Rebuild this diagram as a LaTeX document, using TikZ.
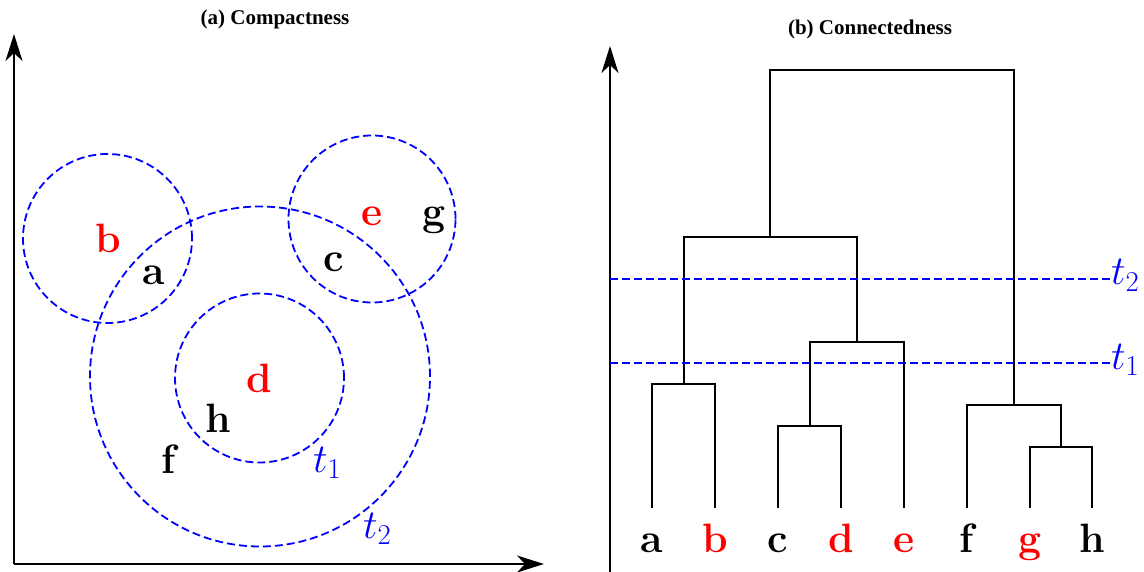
\RequirePackage{fix-cm}
\documentclass[tikz,border=0pt]{standalone}
\usepackage{fontspec}
\newfontfamily\titlefont{Liberation Serif}
\usetikzlibrary{arrows.meta}
\definecolor{lblblue}{RGB}{0,0,255}
\definecolor{lblred}{RGB}{255,0,0}
\begin{document}
\begin{tikzpicture}[x=1pt,y=-1pt,
  lbl/.style={font=\fontsize{41}{45}\selectfont\bfseries, inner sep=0pt, anchor=base},
  redlbl/.style={lbl, text=lblred},
  ttl/.style={font=\titlefont\fontsize{21}{24}\selectfont\bfseries, inner sep=0pt, anchor=base},
  circ/.style={circle, draw=lblblue, dash pattern=on 8pt off 4pt, line width=1.8pt, inner sep=0pt},
  cutline/.style={draw=lblblue, dash pattern=on 8pt off 4pt, line width=1.8pt},
  axis/.style={line width=1.8pt, -{Stealth[length=27pt,width=17pt,inset=8pt]}},
  dend/.style={line width=1.8pt},
  tlbl/.style={text=lblblue, font=\fontsize{41}{45}\selectfont, inner sep=0pt}]
\useasboundingbox (0,0) rectangle (1144,572);

% ---------- (a) Compactness ----------
\node[ttl] (ta) at (275,25) {(a) Compactness};
\coordinate (o) at (14,564);
\coordinate (ytip) at (14,34);
\coordinate (xtip) at (544,564);
\draw[axis] (o) -- (ytip);
\draw[axis] (o) -- (xtip);

\node[circ, minimum size=169pt] (cb) at (107.5,238.5) {};
\node[circ, minimum size=167pt] (ceg) at (372,219) {};
\node[circ, minimum size=169pt] (ct1) at (259.5,378) {};
\node[circ, minimum size=340pt] (ct2) at (260,376.5) {};

\node[redlbl] (pb) at (108,253) {b};
\node[lbl] (pa) at (154,285) {a};
\node[redlbl] (pe) at (372,226) {e};
\node[lbl] (pg) at (434,226) {g};
\node[lbl] (pc) at (334,272) {c};
\node[redlbl] (pd) at (259,392) {d};
\node[lbl] (ph) at (218,432) {h};
\node[lbl] (pf) at (169,473) {f};
\node[tlbl, anchor=base west] (lt1) at (313,472) {$t_1$};
\node[tlbl, anchor=base west] (lt2) at (363,538) {$t_2$};

% ---------- (b) Connectedness ----------
\node[ttl] (tb) at (870,35) {(b) Connectedness};
\coordinate (o2) at (610,572);
\coordinate (ytip2) at (610,46);
\draw[axis] (o2) -- (ytip2);

% leaves
\coordinate (la) at (652,508);
\coordinate (lb) at (715,508);
\coordinate (lc) at (778,508);
\coordinate (ld) at (841,508);
\coordinate (le) at (904,508);
\coordinate (lf) at (967,508);
\coordinate (lg) at (1030,508);
\coordinate (lh) at (1092,508);
% merges
\coordinate (mab) at (684,384);
\coordinate (mcd) at (810,426);
\coordinate (mcde) at (857,342);
\coordinate (mgh) at (1061,447);
\coordinate (mfgh) at (1014,405);
\coordinate (mabcde) at (770,237);
\coordinate (mall) at (892,70);

\draw[dend] (la) |- (mab) -| (lb);
\draw[dend] (lc) |- (mcd) -| (ld);
\draw[dend] (mcd) |- (mcde) -| (le);
\draw[dend] (lg) |- (mgh) -| (lh);
\draw[dend] (lf) |- (mfgh) -| (mgh);
\draw[dend] (mab) |- (mabcde) -| (mcde);
\draw[dend] (mabcde) |- (mall) -| (mfgh);

\coordinate (c2s) at (610,279);
\coordinate (c2e) at (1110,279);
\coordinate (c1s) at (610,363);
\coordinate (c1e) at (1110,363);
\draw[cutline] (c2s) -- (c2e);
\draw[cutline] (c1s) -- (c1e);
\node[tlbl, anchor=base west] (rt2) at (1111,285) {$t_2$};
\node[tlbl, anchor=base west] (rt1) at (1111,369) {$t_1$};

\node[lbl] (na) at (652,552) {a};
\node[redlbl] (nb) at (715,552) {b};
\node[lbl] (nc) at (778,552) {c};
\node[redlbl] (nd) at (841,552) {d};
\node[redlbl] (ne) at (904,552) {e};
\node[lbl] (nf) at (967,552) {f};
\node[redlbl] (ng) at (1030,552) {g};
\node[lbl] (nh) at (1092,552) {h};
\end{tikzpicture}
\end{document}
